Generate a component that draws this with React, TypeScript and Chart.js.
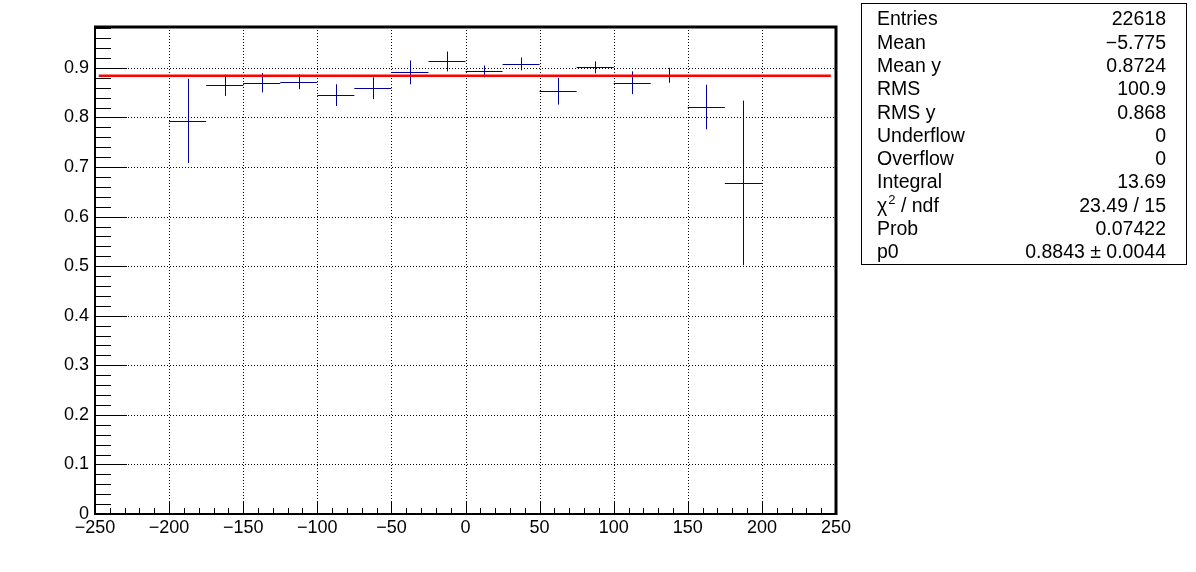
import React, { useEffect, useRef } from "react";
import { Chart, registerables } from "chart.js";

Chart.register(...registerables);

// ---- data ----
const binCenters = [-187.5, -162.5, -137.5, -112.5, -87.5, -62.5, -37.5, -12.5, 12.5, 37.5, 62.5, 87.5, 112.5, 137.5, 162.5, 187.5];
const binHalfWidth = 12.5;
const binValues = [0.793, 0.865, 0.870, 0.872, 0.845, 0.859, 0.891, 0.913, 0.893, 0.908, 0.853, 0.901, 0.870, 0.885, 0.821, 0.668];
const binErrors = [0.085, 0.0215, 0.0195, 0.015, 0.022, 0.022, 0.024, 0.020, 0.012, 0.013, 0.027, 0.012, 0.023, 0.015, 0.045, 0.166];
const fitValue = 0.8843;
const fitRange = [-247.5, 246.5];
const xMin = -250;
const xMax = 250;
const yMin = 0;
const yMax = 0.9825;
const statLabels = ["Entries", "Mean", "Mean y", "RMS", "RMS y", "Underflow", "Overflow", "Integral", "\u03C7\u00B2 / ndf", "Prob", "p0"];
const statValues = ["22618", "\u22125.775", "0.8724", "100.9", "0.868", "0", "0", "13.69", "23.49 / 15", "0.07422", "0.8843 \u00B1 0.0044"];

const FONT = "'Liberation Sans', Arial, Helvetica, sans-serif";
const POINT_COLOR = "#000099";
const STAT_FONT = 19.5;

const rootPlugin = {
  id: "rootStyle",
  beforeDraw(chart: any) {
    const ctx = chart.ctx;
    ctx.save();
    ctx.fillStyle = "#ffffff";
    ctx.fillRect(0, 0, chart.width, chart.height);
    ctx.restore();
  },
  beforeDatasetsDraw(chart: any) {
    const ctx = chart.ctx;
    const { left, right, top, bottom } = chart.chartArea;
    const xs = chart.scales.x;
    const ys = chart.scales.y;
    ctx.save();
    // dotted grid
    ctx.strokeStyle = "#000000";
    ctx.lineWidth = 1;
    ctx.setLineDash([1, 2]);
    for (let v = -200; v <= 200; v += 50) {
      const px = Math.round(xs.getPixelForValue(v)) + 0.5;
      ctx.beginPath();
      ctx.moveTo(px, top);
      ctx.lineTo(px, bottom);
      ctx.stroke();
    }
    for (let i = 1; i <= 9; i++) {
      const py = Math.round(ys.getPixelForValue(i / 10)) + 0.5;
      ctx.beginPath();
      ctx.moveTo(left, py);
      ctx.lineTo(right, py);
      ctx.stroke();
    }
    ctx.setLineDash([]);
    // error bars
    const data = chart.data.datasets[1].data;
    ctx.strokeStyle = POINT_COLOR;
    ctx.lineWidth = 1;
    data.forEach((d: any, i: number) => {
      const x0 = xs.getPixelForValue(d.x - binHalfWidth);
      const x1 = xs.getPixelForValue(d.x + binHalfWidth);
      const xc = Math.round(xs.getPixelForValue(d.x)) + 0.5;
      const yc = Math.round(ys.getPixelForValue(d.y)) + 0.5;
      const ylo = ys.getPixelForValue(d.y - binErrors[i]);
      const yhi = ys.getPixelForValue(d.y + binErrors[i]);
      ctx.beginPath();
      ctx.moveTo(x0, yc);
      ctx.lineTo(x1, yc);
      ctx.moveTo(xc, yhi);
      ctx.lineTo(xc, ylo);
      ctx.stroke();
    });
    ctx.restore();
  },
  afterDatasetsDraw(chart: any) {
    const ctx = chart.ctx;
    const { left, right, top, bottom } = chart.chartArea;
    const xs = chart.scales.x;
    const ys = chart.scales.y;
    ctx.save();
    ctx.strokeStyle = "#000000";
    // y ticks
    ctx.lineWidth = 1;
    for (let k = 0; k <= 49; k++) {
      const v = k * 0.02;
      if (v > yMax) break;
      const py = Math.round(ys.getPixelForValue(v)) + 0.5;
      const len = k % 5 === 0 ? 32 : 16;
      ctx.beginPath();
      ctx.moveTo(left, py);
      ctx.lineTo(left + len, py);
      ctx.stroke();
    }
    // x ticks
    for (let v = xMin; v <= xMax; v += 10) {
      const px = Math.round(xs.getPixelForValue(v)) + 0.5;
      const len = v % 50 === 0 ? 12 : 6;
      ctx.beginPath();
      ctx.moveTo(px, bottom);
      ctx.lineTo(px, bottom - len);
      ctx.stroke();
    }
    // frame
    ctx.lineWidth = 2;
    ctx.beginPath();
    ctx.moveTo(left, top);
    ctx.lineTo(left, bottom);
    ctx.lineTo(right, bottom);
    ctx.stroke();
    ctx.lineWidth = 3;
    ctx.beginPath();
    ctx.moveTo(left - 1, top);
    ctx.lineTo(right, top);
    ctx.lineTo(right, bottom + 1);
    ctx.stroke();

    // stats box
    const bx0 = 861.5, by0 = 3.5, bx1 = 1186.5, by1 = 264.5;
    ctx.fillStyle = "#ffffff";
    ctx.fillRect(bx0, by0, bx1 - bx0, by1 - by0);
    ctx.lineWidth = 1;
    ctx.strokeRect(bx0, by0, bx1 - bx0, by1 - by0);
    ctx.fillStyle = "#000000";
    ctx.font = `${STAT_FONT}px ${FONT}`;
    ctx.textBaseline = "middle";
    statLabels.forEach((lab, i) => {
      const yy = 20 + 23.3 * i;
      ctx.textAlign = "left";
      if (lab.startsWith("\u03C7")) {
        ctx.fillText("\u03C7", 877, yy);
        const w = ctx.measureText("\u03C7").width;
        ctx.font = `13px ${FONT}`;
        ctx.fillText("2", 877 + w + 1, yy - 6);
        const w2 = ctx.measureText("2").width;
        ctx.font = `${STAT_FONT}px ${FONT}`;
        ctx.fillText(" / ndf", 877 + w + 1 + w2, yy);
      } else {
        ctx.fillText(lab, 877, yy);
      }
      ctx.textAlign = "right";
      ctx.fillText(statValues[i], 1166, yy);
    });
    ctx.restore();
  },
};

export default function App() {
  const ref = useRef<HTMLCanvasElement | null>(null);
  useEffect(() => {
    document.body.style.margin = "0";
    const canvas = ref.current;
    if (!canvas) return;
    const chart = new Chart(canvas, {
      type: "scatter",
      data: {
        datasets: [
          {
            label: "fit",
            data: fitRange.map((x) => ({ x, y: fitValue })),
            showLine: true,
            borderColor: "#ff0000",
            borderWidth: 2.5,
            pointRadius: 0,
            order: 0,
          },
          {
            label: "hist",
            data: binCenters.map((x, i) => ({ x, y: binValues[i] })),
            pointRadius: 0,
            borderColor: POINT_COLOR,
            order: 1,
          },
        ],
      },
      options: {
        responsive: false,
        animation: false,
        devicePixelRatio: 1,
        layout: { padding: { left: 0, top: 27, right: 360, bottom: 0 } },
        plugins: { legend: { display: false }, tooltip: { enabled: false }, title: { display: false } },
        events: [],
        scales: {
          x: {
            type: "linear",
            min: xMin,
            max: xMax,
            grid: { display: false, drawTicks: false },
            border: { display: false },
            ticks: {
              stepSize: 50,
              includeBounds: false,
              padding: 3,
              color: "#000000",
              maxRotation: 0,
              autoSkip: false,
              font: { family: FONT, size: 18 },
              callback: (v: any) => (Number(v) < 0 ? "\u2212" + Math.abs(Number(v)) : String(v)),
            },
            afterFit: (s: any) => {
              s.height = 58;
            },
          },
          y: {
            type: "linear",
            min: yMin,
            max: yMax,
            grid: { display: false, drawTicks: false },
            border: { display: false },
            ticks: {
              stepSize: 0.1,
              includeBounds: false,
              padding: 6,
              color: "#000000",
              autoSkip: false,
              font: { family: FONT, size: 18 },
              callback: (v: any) => (Math.abs(Number(v)) < 1e-9 ? "0" : Number(v).toFixed(1)),
            },
            afterFit: (s: any) => {
              s.width = 95;
            },
          },
        },
      },
      plugins: [rootPlugin],
    } as any);
    return () => chart.destroy();
  }, []);
  return (
    <div style={{ position: "absolute", left: 0, top: 0, width: 1196, height: 572 }}>
      <canvas ref={ref} width={1196} height={572} style={{ display: "block" }} />
    </div>
  );
}
